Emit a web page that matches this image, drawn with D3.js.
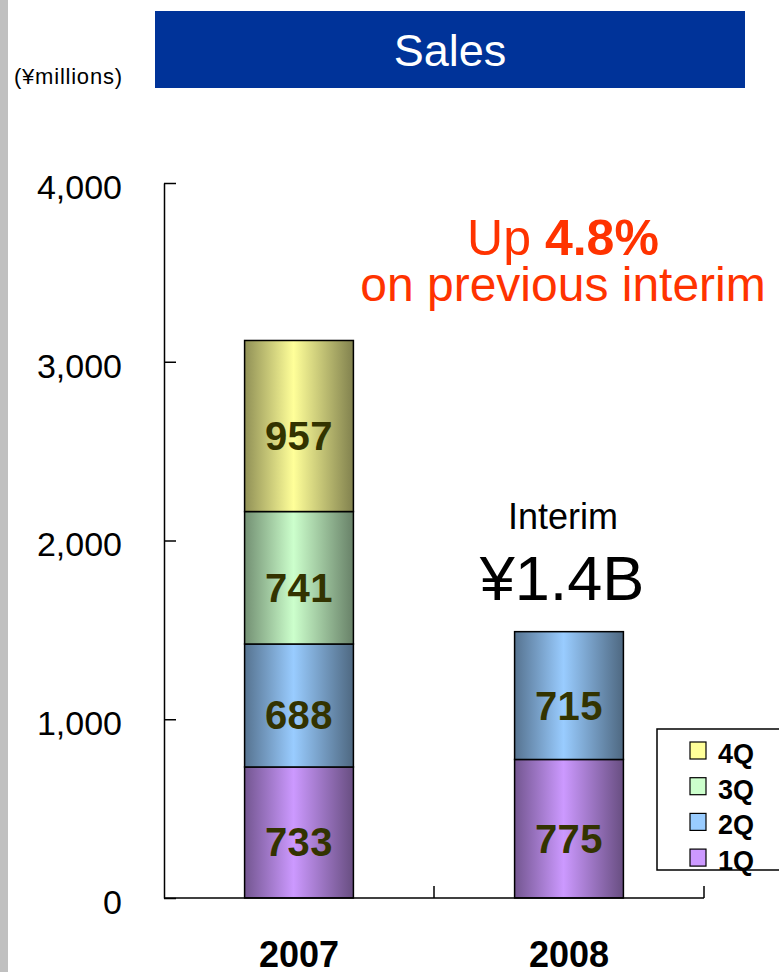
<!DOCTYPE html>
<html><head><meta charset="utf-8">
<script src="https://cdn.jsdelivr.net/npm/d3@7"></script>
<style>body{margin:0;background:#fff;} svg{display:block;font-family:"Liberation Sans",Arial,sans-serif;}</style>
</head><body>
<svg id="c" width="779" height="972"></svg>
<script>
const years = ["2007", "2008"];
const quarters = ["1Q", "2Q", "3Q", "4Q"];
const q1 = [733, 775];
const q2 = [688, 715];
const q3 = [741, 0];
const q4 = [957, 0];
const yTicks = [0, 1000, 2000, 3000, 4000];
const title = "Sales";
const unitLabel = "(¥millions)";
const colorsLight = {"1Q": "#cc99ff", "2Q": "#99ccff", "3Q": "#ccffcc", "4Q": "#ffff99"};

const svg = d3.select("#c");
svg.append("rect").attr("x", 0).attr("y", 0).attr("width", 8).attr("height", 972).attr("fill", "#c0c0c0");

// title
svg.append("rect").attr("x", 155).attr("y", 11).attr("width", 590).attr("height", 77).attr("fill", "#003399");
svg.append("text").attr("x", 450).attr("y", 66).attr("text-anchor", "middle").attr("fill", "#fff")
  .attr("font-size", 45).text(title);
svg.append("text").attr("x", 14).attr("y", 84).attr("font-size", 22).attr("fill", "#000").attr("textLength", 108).text(unitLabel);

const y = d3.scaleLinear().domain([0, 4000]).range([898, 183]);
const x = d3.scaleBand().domain(years).range([164, 704]).padding(0);
const barW = x.bandwidth() * 0.403;

// gradients
const defs = svg.append("defs");
quarters.forEach(q => {
  const c = d3.color(colorsLight[q]);
  const g = defs.append("linearGradient").attr("id", "g" + q).attr("x1", "0%").attr("x2", "100%").attr("y1", "0%").attr("y2", "0%");
  g.append("stop").attr("offset", "0%").attr("stop-color", c.darker(1.6));
  g.append("stop").attr("offset", "45%").attr("stop-color", c);
  g.append("stop").attr("offset", "100%").attr("stop-color", c.darker(1.9));
});

const series = {"1Q": q1, "2Q": q2, "3Q": q3, "4Q": q4};
const rows = years.map((yr, i) => { const r = {year: yr}; quarters.forEach(q => r[q] = series[q][i]); return r; });
const stacked = d3.stack().keys(quarters)(rows);

const gBars = svg.append("g");
stacked.forEach(s => {
  s.forEach((d, i) => {
    const v = d[1] - d[0];
    if (!v) return;
    const cx = x(years[i]) + x.bandwidth() / 2;
    gBars.append("rect").attr("x", cx - barW / 2).attr("y", y(d[1])).attr("width", barW)
      .attr("height", y(d[0]) - y(d[1])).attr("fill", "url(#g" + s.key + ")")
      .attr("stroke", "#000").attr("stroke-width", 1.5);
    gBars.append("text").attr("x", cx).attr("y", (y(d[0]) + y(d[1])) / 2 + 10)
      .attr("text-anchor", "middle").attr("dominant-baseline", "central")
      .attr("font-size", 40).attr("font-weight", "bold").attr("letter-spacing", 0.5).attr("fill", "#333300").text(v);
  });
});

// y axis
const yAxis = d3.axisLeft(y).tickValues(yTicks).tickSizeInner(-12).tickSizeOuter(0).tickPadding(42)
  .tickFormat(d3.format(","));
const ga = svg.append("g").attr("transform", "translate(164,0)").call(yAxis);
ga.selectAll("path,line").attr("stroke", "#000").attr("stroke-width", 1.5);
ga.selectAll("text").attr("font-size", 34).attr("fill", "#000").attr("dy", "0.45em")
  .attr("font-family", "Liberation Sans, Arial, sans-serif");

// x axis
svg.append("line").attr("x1", 164).attr("x2", 704).attr("y1", y(0)).attr("y2", y(0)).attr("stroke", "#000").attr("stroke-width", 1.5);
years.forEach(yr => {
  const xe = x(yr) + x.bandwidth();
  svg.append("line").attr("x1", xe).attr("x2", xe).attr("y1", y(0)).attr("y2", y(0) - 12).attr("stroke", "#000").attr("stroke-width", 1.5);
  svg.append("text").attr("x", x(yr) + x.bandwidth() / 2).attr("y", 967).attr("text-anchor", "middle")
    .attr("font-size", 36).attr("font-weight", "bold").attr("fill", "#000").text(yr);
});

// annotations
const up = svg.append("text").attr("x", 563).attr("y", 255).attr("text-anchor", "middle").attr("fill", "#ff3300").attr("font-size", 50);
up.append("tspan").text("Up ");
up.append("tspan").attr("font-weight", "bold").text("4.8%");
svg.append("text").attr("x", 563).attr("y", 301).attr("text-anchor", "middle").attr("fill", "#ff3300").attr("font-size", 48).text("on previous interim");
svg.append("text").attr("x", 563).attr("y", 529).attr("text-anchor", "middle").attr("fill", "#000").attr("font-size", 36).text("Interim");
svg.append("text").attr("x", 562).attr("y", 600).attr("text-anchor", "middle").attr("fill", "#000").attr("font-size", 63).text("¥1.4B");

// legend
const lg = svg.append("g");
lg.append("rect").attr("x", 657).attr("y", 729).attr("width", 140).attr("height", 141).attr("fill", "#fff").attr("stroke", "#000").attr("stroke-width", 1.5);
quarters.slice().reverse().forEach((q, i) => {
  const ty = 742 + i * 35.7;
  lg.append("rect").attr("x", 690).attr("y", ty).attr("width", 16).attr("height", 17).attr("fill", colorsLight[q]).attr("stroke", "#000").attr("stroke-width", 1.2);
  lg.append("text").attr("x", 718).attr("y", ty + 21).attr("font-size", 27).attr("font-weight", "bold").attr("fill", "#000").text(q);
});
</script>
</body></html>
